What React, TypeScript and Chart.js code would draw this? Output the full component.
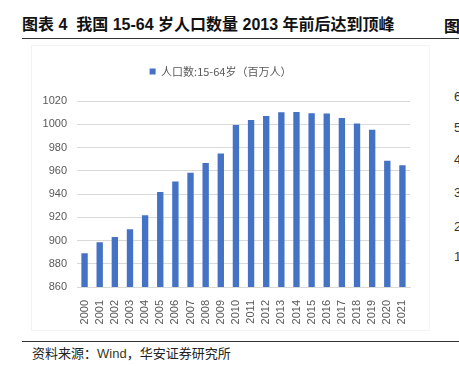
import React, { useEffect, useRef } from "react";
import { Chart, registerables } from "chart.js";

Chart.register(...registerables);

const years = ["2000","2001","2002","2003","2004","2005","2006","2007","2008","2009","2010","2011","2012","2013","2014","2015","2016","2017","2018","2019","2020","2021"];
const population = [889.1, 898.5, 903.0, 909.6, 921.8, 941.8, 950.7, 958.2, 966.7, 974.9, 999.4, 1003.6, 1007.2, 1010.4, 1010.5, 1009.5, 1009.2, 1005.3, 1000.7, 995.3, 968.7, 964.8];
const yTicks = [860, 880, 900, 920, 940, 960, 980, 1000, 1020];
const seriesName = "人口数:15-64岁（百万人）";
const sideDigits = ["6", "5", "4", "3", "2", "1"];

const legendMargin = {
  id: "legendMargin",
  beforeInit(chart: any) {
    const orig = chart.legend.fit;
    chart.legend.fit = function () {
      orig.bind(this)();
      this.height += 14;
    };
  },
};

export default function App() {
  const ref = useRef<HTMLCanvasElement | null>(null);
  useEffect(() => {
    if (!ref.current) return;
    const chart = new Chart(ref.current, {
      type: "bar",
      data: {
        labels: years,
        datasets: [
          {
            label: seriesName,
            data: population,
            backgroundColor: "#4472C4",
            borderWidth: 0,
            categoryPercentage: 1,
            barPercentage: 0.42,
          },
        ],
      },
      plugins: [legendMargin],
      options: {
        responsive: false,
        animation: false,
        devicePixelRatio: 1,
        layout: { padding: { left: 0, right: 19, top: 11, bottom: 0 } },
        plugins: {
          tooltip: { enabled: false },
          legend: {
            display: true,
            position: "top",
            labels: {
              usePointStyle: true,
              pointStyle: "rect",
              boxWidth: 6,
              boxHeight: 6,
              padding: 10,
              color: "#595959",
              font: { size: 11, family: "'Noto Sans CJK SC', 'Liberation Sans', sans-serif" },
            },
          },
        },
        scales: {
          x: {
            grid: { display: false },
            border: { display: true, color: "#d9d9d9", width: 1 },
            ticks: {
              color: "#595959",
              minRotation: 90,
              maxRotation: 90,
              autoSkip: false,
              padding: 5,
              font: { size: 11, family: "'Liberation Sans', Arial, sans-serif" },
            },
            afterFit: (s: any) => { s.height = 43; },
          },
          y: {
            min: 860,
            max: 1020,
            afterBuildTicks: (s: any) => { s.ticks = yTicks.map((v) => ({ value: v })); },
            grid: { color: "#d9d9d9", lineWidth: 1, drawTicks: false },
            border: { display: false },
            ticks: {
              color: "#595959",
              padding: 10,
              callback: (v: any) => String(v),
              font: { size: 11, family: "'Liberation Sans', Arial, sans-serif" },
            },
            afterFit: (s: any) => { s.width = 46; },
          },
        },
      },
    });
    return () => chart.destroy();
  }, []);

  const lineStyle: React.CSSProperties = { position: "absolute", left: 22, width: 437, height: 1, background: "#333" };
  return (
    <div style={{ position: "fixed", left: 0, top: 0, width: 459, height: 366, overflow: "hidden", background: "#fff" }}>
      <div style={{ position: "absolute", left: 22, top: 16, fontSize: 16, fontWeight: "bold", color: "#111", whiteSpace: "nowrap", fontFamily: "'Liberation Sans', 'Noto Sans CJK SC', sans-serif", lineHeight: "18px" }}>
        图表 4&nbsp; 我国 15-64 岁人口数量 2013 年前后达到顶峰
      </div>
      <div style={{ position: "absolute", left: 444, top: 16, fontSize: 16, fontWeight: "bold", color: "#111", fontFamily: "'Noto Sans CJK SC', sans-serif", lineHeight: "18px" }}>图</div>
      <div style={{ ...lineStyle, top: 38 }} />
      <div style={{ position: "absolute", left: 31, top: 45, width: 397, height: 284, border: "1px solid #f3f3f3" }} />
      <canvas ref={ref} width={398} height={285} style={{ position: "absolute", left: 31, top: 45, width: 398, height: 285 }} />
      {sideDigits.map((d, i) => (
        <div key={d} style={{ position: "absolute", left: 454, top: [89, 120, 152, 185, 219, 249][i], fontSize: 13, color: "#333", fontFamily: "'Liberation Sans', Arial, sans-serif", lineHeight: "16px" }}>{d}</div>
      ))}
      <div style={{ ...lineStyle, top: 341 }} />
      <div style={{ position: "absolute", left: 32, top: 345, fontSize: 13, color: "#222", whiteSpace: "nowrap", fontFamily: "'Noto Sans CJK SC', sans-serif", lineHeight: "16px" }}>
        资料来源：<span style={{ fontFamily: "'Liberation Sans', Arial, sans-serif", color: "#3a3a20" }}>Wind</span>，华安证券研究所
      </div>
    </div>
  );
}
